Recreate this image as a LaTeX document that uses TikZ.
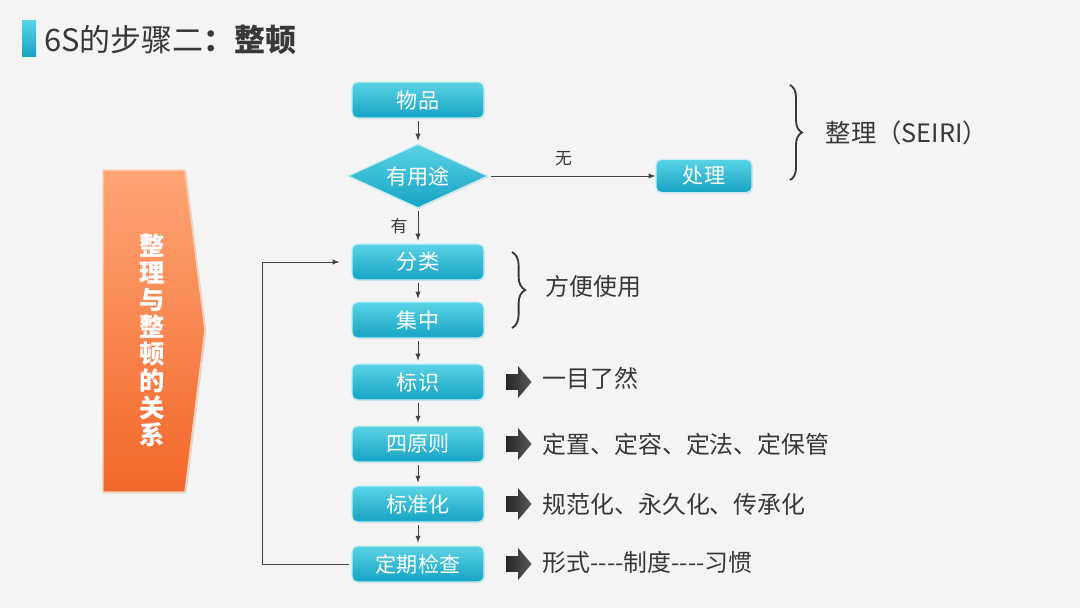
\documentclass[tikz,border=0pt]{standalone}
\usepackage{fontspec}
\setmainfont{Noto Sans CJK SC}
\usetikzlibrary{shapes,shapes.arrows,decorations.pathreplacing,shadows}
\definecolor{bg}{HTML}{F4F4F4}
\definecolor{cyantop}{HTML}{5AD3E6}
\definecolor{cyanbot}{HTML}{16A3C3}
\definecolor{cyanedge}{HTML}{C4EEF5}
\definecolor{orangetop}{HTML}{FFA576}
\definecolor{orangebot}{HTML}{F2672A}
\definecolor{orangeedge}{HTML}{F8D2B6}
\definecolor{txt}{HTML}{383838}
\definecolor{linec}{HTML}{444444}
\tikzstyle{rec} = [rectangle,rounded corners=4pt,draw=cyanedge,line width=0.8pt,top color=cyantop,bottom color=cyanbot,text=white,text centered,font=\fontsize{15}{17}\selectfont,minimum width=3.3cm,minimum height=0.9cm,inner sep=0pt,drop shadow={opacity=0.2,shadow xshift=0.6pt,shadow yshift=-0.8pt}]
\tikzstyle{dia} = [diamond,aspect=2.2,draw=cyanedge,line width=0.8pt,top color=cyantop,bottom color=cyanbot,text=white,font=\fontsize{15}{17}\selectfont,minimum width=3.5cm,minimum height=1.6cm,inner sep=0pt,drop shadow={opacity=0.2,shadow xshift=0.6pt,shadow yshift=-0.8pt}]
\tikzstyle{fat} = [single arrow,left color=black!85,right color=black!65,draw=none,minimum height=0.63cm,inner xsep=0pt,inner ysep=0.19cm,single arrow head extend=0.2cm,single arrow tip angle=100]
\tikzstyle{note} = [text=txt,font=\fontsize{17}{19}\selectfont,inner sep=0pt]
\tikzstyle{con} = [->,draw=linec,line width=0.7pt,shorten >=2pt,shorten <=2pt]
\tikzstyle{brc} = [decorate,draw=txt,line width=1.3pt]

\begin{document}
\begin{tikzpicture}[>=latex]

	\fill[bg] (0,0) rectangle (27,-15.2);
	\useasboundingbox (0,0) rectangle (27,-15.2);

	% title
	\node[minimum width=0.35cm,minimum height=0.92cm,inner sep=0pt,top color=cyantop,bottom color=cyanbot](bar) at (0.725,-0.96) {};
	\node[anchor=west,text=txt,inner sep=0pt,font=\fontsize{22}{24}\selectfont](title) at (1.1,-1.0) {6S的步骤二\textbf{：整顿}};

	% left chevron
	\path[top color=orangetop,bottom color=orangebot,draw=orangeedge,line width=1pt,drop shadow={opacity=0.25,shadow xshift=1pt,shadow yshift=-1pt}]
		(2.575,-4.25) -- (4.625,-4.25) -- (5.125,-8.25) -- (4.625,-12.3) -- (2.575,-12.3) -- cycle;
	\node[text=white,align=center,font=\fontsize{18}{19.2}\selectfont\bfseries](relation) at (3.8,-8.5) {整\\理\\与\\整\\顿\\的\\关\\系};

	% flow
	\node[rec](item) at (10.45,-2.5) {物品};
	\node[dia,yshift=-0.9cm,below of=item](useful) {有用途};
	\node[rec,yshift=-1.15cm,below of=useful](sort) {分类};
	\node[rec,yshift=-0.45cm,below of=sort](gather) {集中};
	\node[rec,yshift=-0.55cm,below of=gather](mark) {标识};
	\node[rec,yshift=-0.55cm,below of=mark](rules) {四原则};
	\node[rec,yshift=-0.5cm,below of=rules](standard) {标准化};
	\node[rec,yshift=-0.5cm,below of=standard](check) {定期检查};
	\node[rec,minimum width=2.4cm,minimum height=0.83cm,xshift=6.15cm,right of=useful](dispose) {处理};

	\draw[con] (item) -- (useful);
	\draw[con] (useful) -- (sort) node[midway,left=0.25cm,text=txt,font=\fontsize{12}{14}\selectfont,inner sep=0pt](yes) {有};
	\draw[con,shorten >=0pt] (useful) -- (dispose) node[pos=0.45,above=0.25cm,text=txt,font=\fontsize{12}{14}\selectfont,inner sep=0pt](no) {无};
	\draw[con] (sort) -- (gather);
	\draw[con] (gather) -- (mark);
	\draw[con] (mark) -- (rules);
	\draw[con] (rules) -- (standard);
	\draw[con] (standard) -- (check);
	\draw[con,shorten >=0.3cm] (check.west) -- ++(-2.225cm,0) |- (sort.west);

	% fat arrows and notes
	\node[fat,xshift=1.44cm,right of=mark](ar1) {};
	\node[fat,xshift=1.44cm,right of=rules](ar2) {};
	\node[fat,xshift=1.44cm,right of=standard](ar3) {};
	\node[fat,xshift=1.44cm,right of=check](ar4) {};
	\node[note,xshift=-0.33cm,yshift=0.08cm,right of=ar1,anchor=west](glance) {一目了然};
	\node[note,xshift=-0.33cm,right of=ar2,anchor=west](fixed) {定置、定容、定法、定保管};
	\node[note,xshift=-0.33cm,right of=ar3,anchor=west](norm) {规范化、永久化、传承化};
	\node[note,xshift=-0.33cm,yshift=0.05cm,right of=ar4,anchor=west](habit) {形式-\kern0pt-\kern0pt-\kern0pt-制度-\kern0pt-\kern0pt-\kern0pt-习惯};

	% braces
	\coordinate (b1a) at (19.75,-2.125);
	\coordinate (b1b) at (19.75,-4.5);
	\coordinate (b2a) at (12.8,-6.3);
	\coordinate (b2b) at (12.8,-8.2);
	\draw[brc,decoration={brace,amplitude=0.3cm}] (b1a) -- (b1b) node[midway,note,right=0.87cm,font=\fontsize{18}{20}\selectfont](seiri) {整理（SEIRI）};
	\draw[brc,decoration={brace,amplitude=0.33cm}] (b2a) -- (b2b) node[midway,note,right=0.82cm,yshift=0.1cm](handy) {方便使用};

\end{tikzpicture}
\end{document}
